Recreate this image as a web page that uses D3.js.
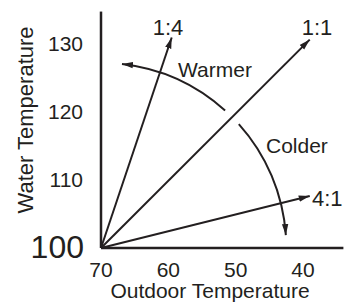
<!DOCTYPE html>
<html>
<head>
<meta charset="utf-8">
<script src="https://cdn.jsdelivr.net/npm/d3@7"></script>
<style>
  body { margin: 0; background: #fff; }
  text { font-family: "Liberation Sans", Arial, sans-serif; fill: #231f20; }
</style>
</head>
<body>
<svg id="chart" width="357" height="302"></svg>
<script>
// === data === //
var ratioLabels = ["1:4", "1:1", "4:1"]
var tipOutdoor = [59.5, 39, 39]
var tipWater = [130.8, 130.5, 107.6]

var xTicks = [70, 60, 50, 40]
var yTicks = [110, 120, 130]

// sweep arc ends (outdoor, water)
var arcStart = [66.9, 126.8]
var arcEnd = [42.4, 101.9]
var arcWords = ["Warmer", "Colder"]

// === set up === //
var ink = "#231f20"

var x = d3.scaleLinear().domain([70, 40]).range([101, 303])
var y = d3.scaleLinear().domain([100, 130]).range([248, 43])

var svg = d3.select("#chart")

var defs = svg.append("defs")
defs.append("marker")
  .attr("id", "head")
  .attr("markerUnits", "userSpaceOnUse")
  .attr("viewBox", "0 -4 11 8")
  .attr("refX", 11)
  .attr("refY", 0)
  .attr("markerWidth", 11)
  .attr("markerHeight", 8)
  .attr("orient", "auto")
  .append("path")
  .attr("d", "M0,-3.2L11,0L0,3.2Z")
  .attr("fill", ink)

// axes (plain lines, no tick marks)
svg.append("line")
  .attr("x1", x(70)).attr("x2", x(70))
  .attr("y1", y(134.6)).attr("y2", y(100))
  .attr("stroke", ink).attr("stroke-width", 2.5)

svg.append("line")
  .attr("x1", x(70)).attr("x2", x(34))
  .attr("y1", y(100)).attr("y2", y(100))
  .attr("stroke", ink).attr("stroke-width", 2.5)

svg.selectAll(".xt")
  .data(xTicks)
  .enter().append("text")
  .attr("x", function(d) { return x(d) })
  .attr("y", 277)
  .attr("text-anchor", "middle")
  .attr("font-size", 21)
  .text(function(d) { return d })

svg.selectAll(".yt")
  .data(yTicks)
  .enter().append("text")
  .attr("x", 83)
  .attr("y", function(d) { return y(d) + 7.5 })
  .attr("text-anchor", "end")
  .attr("font-size", 21)
  .text(function(d) { return d })

svg.append("text")
  .attr("x", 84)
  .attr("y", y(100) + 10)
  .attr("text-anchor", "end")
  .attr("font-size", 32)
  .text("100")

svg.append("text")
  .attr("x", 210)
  .attr("y", 298)
  .attr("text-anchor", "middle")
  .attr("font-size", 21)
  .text("Outdoor Temperature")

svg.append("text")
  .attr("transform", "translate(33,120) rotate(-90)")
  .attr("text-anchor", "middle")
  .attr("font-size", 22)
  .text("Water Temperature")

// ratio lines
var ox = x(70), oy = y(100)
ratioLabels.forEach(function(lab, i) {
  svg.append("line")
    .attr("x1", ox).attr("y1", oy)
    .attr("x2", x(tipOutdoor[i])).attr("y2", y(tipWater[i]))
    .attr("stroke", ink).attr("stroke-width", 2)
    .attr("marker-end", "url(#head)")
})

svg.append("text").attr("x", 168).attr("y", 35).attr("text-anchor", "middle")
  .attr("font-size", 22).text(ratioLabels[0])
svg.append("text").attr("x", 317).attr("y", 35).attr("text-anchor", "middle")
  .attr("font-size", 22).text(ratioLabels[1])
svg.append("text").attr("x", 312).attr("y", 206)
  .attr("font-size", 22).text(ratioLabels[2])

// sweep arc, broken where it crosses the 1:1 line
var a0 = Math.atan2(y(arcStart[1]) - oy, x(arcStart[0]) - ox)
var a1 = Math.atan2(y(arcEnd[1]) - oy, x(arcEnd[0]) - ox)
var r = (Math.hypot(x(arcStart[0]) - ox, y(arcStart[1]) - oy) +
         Math.hypot(x(arcEnd[0]) - ox, y(arcEnd[1]) - oy)) / 2
var mid = Math.atan2(y(tipWater[1]) - oy, x(tipOutdoor[1]) - ox)
var gap = 3 * Math.PI / 180

var p1 = d3.path()
p1.arc(ox, oy, r, mid - gap, a0, true)
svg.append("path").attr("d", p1.toString())
  .attr("fill", "none").attr("stroke", ink).attr("stroke-width", 2)
  .attr("marker-end", "url(#head)")

var p2 = d3.path()
p2.arc(ox, oy, r, mid + gap, a1, false)
svg.append("path").attr("d", p2.toString())
  .attr("fill", "none").attr("stroke", ink).attr("stroke-width", 2)
  .attr("marker-end", "url(#head)")

svg.append("text").attr("x", 178).attr("y", 77)
  .attr("font-size", 21).text(arcWords[0])
svg.append("text").attr("x", 266).attr("y", 153)
  .attr("font-size", 21).text(arcWords[1])
</script>
</body>
</html>
